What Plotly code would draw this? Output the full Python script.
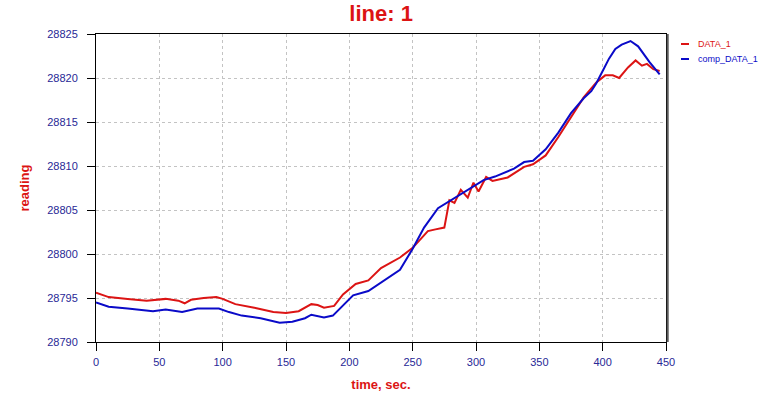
import plotly.graph_objects as go

# DATA_1 (red)
t_data = [0, 10, 25, 40, 55, 65, 70, 75, 85, 95, 100, 110, 125, 140, 150, 160, 170, 175, 180, 188,
          195, 205, 215, 225, 240, 250, 255, 262, 268, 275, 279, 283, 288, 293.5, 298, 302, 308, 313,
          325, 338, 345, 355, 365, 375, 385, 395, 402, 408, 413, 420, 426, 431, 435, 440, 445]
v_data = [28795.6, 28795.1, 28794.9, 28794.7, 28794.9, 28794.7, 28794.4, 28794.8, 28795.0, 28795.1,
          28794.9, 28794.3, 28793.9, 28793.4, 28793.3, 28793.5, 28794.3, 28794.2, 28793.9, 28794.1,
          28795.4, 28796.6, 28797.0, 28798.4, 28799.6, 28800.7, 28801.5, 28802.6, 28802.8, 28803.0,
          28806.1, 28805.8, 28807.3, 28806.4, 28808.1, 28807.1, 28808.75, 28808.3,
          28808.7, 28809.9, 28810.2, 28811.2, 28813.3, 28815.5, 28817.8, 28819.5, 28820.3, 28820.3,
          28820.0, 28821.2, 28822.0, 28821.4, 28821.6, 28821.0, 28820.8]

# comp_DATA_1 (blue)
t_comp = [0, 10, 25, 45, 55, 68, 80, 97, 105, 115, 130, 145, 155, 165, 170, 180, 187, 195, 203,
          215, 230, 240, 250, 259, 270, 280, 290, 306, 315, 330, 338, 345, 355, 365, 375, 385, 391,
          395, 400, 405, 410, 415, 422, 428, 437, 445]
v_comp = [28794.5, 28794.0, 28793.8, 28793.5, 28793.7, 28793.4, 28793.8, 28793.8, 28793.4, 28793.0,
          28792.7, 28792.2, 28792.3, 28792.7, 28793.1, 28792.8, 28793.0, 28794.2, 28795.3,
          28795.8, 28797.3, 28798.2, 28800.6, 28803.0, 28805.2, 28806.1, 28807.0, 28808.4, 28808.8,
          28809.7, 28810.45, 28810.6, 28811.9, 28813.8, 28816.0, 28817.7, 28818.5,
          28819.4, 28820.8, 28822.2, 28823.3, 28823.8, 28824.2, 28823.6, 28821.8, 28820.4]

x_ticks = [0, 50, 100, 150, 200, 250, 300, 350, 400, 450]
y_ticks = [28790, 28795, 28800, 28805, 28810, 28815, 28820, 28825]
y_tick_labels = [str(v) for v in y_ticks]

RED = "rgb(220,20,20)"
BLUE = "rgb(10,10,200)"
TICKC = "rgb(40,40,150)"
GRID = "rgb(195,195,195)"

fig = go.Figure()
fig.add_trace(go.Scatter(x=t_data, y=v_data, mode="lines", name="DATA_1",
                         line=dict(color=RED, width=2)))
fig.add_trace(go.Scatter(x=t_comp, y=v_comp, mode="lines", name="comp_DATA_1",
                         line=dict(color=BLUE, width=2)))

fig.update_layout(
    width=770, height=396,
    margin=dict(l=96, r=104, t=34, b=54, autoexpand=False),
    paper_bgcolor="white", plot_bgcolor="white",
    showlegend=False,
    font=dict(family="Liberation Sans, Arial, sans-serif"),
    title=dict(text="<b>line: 1</b>", x=0.495, xanchor="center", y=1 - 13 / 396, yanchor="middle",
               font=dict(size=22, color=RED)),
)
fig.update_xaxes(range=[0, 450], tickvals=x_ticks, showline=True, linecolor="black", linewidth=1,
                 mirror=True, ticks="outside", ticklen=8, tickcolor="black", automargin=False,
                 showgrid=True, gridcolor=GRID, griddash="3px,3px", gridwidth=1,
                 zeroline=False, tickfont=dict(size=11, color=TICKC), ticklabelstandoff=2,
                 title=dict(text="<b>time, sec.</b>", font=dict(size=13, color=RED), standoff=12))
fig.update_yaxes(range=[28790, 28825], tickvals=y_ticks, ticktext=y_tick_labels,
                 showline=True, linecolor="black", linewidth=1, automargin=False,
                 mirror=True, ticks="outside", ticklen=8, tickcolor="black",
                 showgrid=True, gridcolor=GRID, griddash="3px,3px", gridwidth=1,
                 zeroline=False, tickfont=dict(size=11, color=TICKC), ticklabelstandoff=7,
                 title=dict(text="<b>reading</b>", font=dict(size=13, color=RED), standoff=14))

# right-side shadow edge
fig.add_shape(type="line", xref="paper", yref="paper", x0=1.003, x1=1.003, y0=0, y1=1,
              line=dict(color="rgb(90,90,90)", width=2))

# manual legend
leg = [("DATA_1", RED, 44), ("comp_DATA_1", BLUE, 59)]
for name, col, ypx in leg:
    yp = 1 - (ypx - 34) / 308
    fig.add_shape(type="line", xref="paper", yref="paper",
                  x0=(681 - 96) / 570, x1=(689 - 96) / 570, y0=yp, y1=yp,
                  line=dict(color=col, width=2))
    fig.add_annotation(text=name, xref="paper", yref="paper", x=(696 - 96) / 570, y=yp,
                       xanchor="left", yanchor="middle", showarrow=False,
                       font=dict(size=9, color=col))

fig.write_html("out.html", config={"displayModeBar": False},
               post_script="document.body.style.margin='0';document.body.style.padding='0';")
